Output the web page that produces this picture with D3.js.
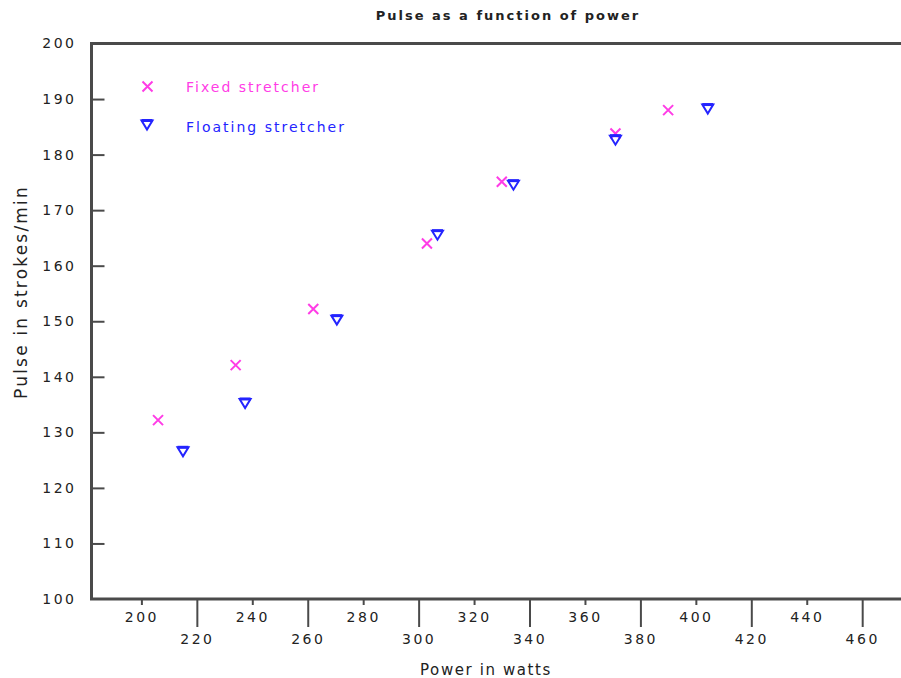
<!DOCTYPE html>
<html>
<head>
<meta charset="utf-8">
<script src="https://cdn.jsdelivr.net/npm/d3@7"></script>
<style>
  body { margin: 0; background: #fff; }
  text { font-family: "DejaVu Sans", sans-serif; fill: #222; }
</style>
</head>
<body>
<svg id="chart" width="901" height="678"></svg>
<script>
// data
let fixedPower = [206, 234, 262, 303, 330, 371, 390],
  fixedPulse = [132.2, 142.1, 152.2, 164, 175.1, 183.8, 188];
let floatPower = [215, 237.4, 270.5, 306.8, 334.2, 371, 404.3],
  floatPulse = [126.5, 135.2, 150.2, 165.5, 174.5, 182.6, 188.2];
let xTicks = [200, 220, 240, 260, 280, 300, 320, 340, 360, 380, 400, 420, 440, 460],
  yTicks = [100, 110, 120, 130, 140, 150, 160, 170, 180, 190, 200];
let seriesNames = ["Fixed stretcher", "Floating stretcher"],
  seriesColors = ["#ff3ce6", "#2424ff"];

const svg = d3.select("#chart");
const axisColor = "#4a4a4a";

const x = d3.scaleLinear().domain([182, 474]).range([91.5, 901]);
const y = d3.scaleLinear().domain([100, 200]).range([599, 43.5]);

// title
svg.append("text")
  .attr("x", 508).attr("y", 20)
  .attr("text-anchor", "middle")
  .style("font-size", "13px").style("font-weight", "bold")
  .style("letter-spacing", "2px")
  .text("Pulse as a function of power");

// x axis with alternating short/long ticks
const xAxis = svg.append("g")
  .attr("transform", `translate(0,${y(100)})`)
  .call(d3.axisBottom(x).tickValues(xTicks).tickSize(0).tickPadding(0));
xAxis.select(".domain").remove();
xAxis.selectAll(".tick line")
  .attr("stroke", axisColor).attr("stroke-width", 2)
  .attr("y2", (d, i) => i % 2 ? 28 : 6);
xAxis.selectAll(".tick text")
  .attr("y", (d, i) => i % 2 ? 45 : 23)
  .attr("dy", 0)
  .style("font-size", "14px").style("letter-spacing", "2.5px")
  .attr("fill", "#222");

// y axis, ticks pointing inward
const yAxis = svg.append("g")
  .attr("transform", `translate(${x(182)},0)`)
  .call(d3.axisLeft(y).tickValues(yTicks).tickSize(0).tickPadding(15));
yAxis.select(".domain").remove();
yAxis.selectAll(".tick line")
  .attr("stroke", axisColor).attr("stroke-width", 2)
  .attr("x2", d => (d === 100 || d === 200) ? 0 : 13);
yAxis.selectAll(".tick text")
  .style("font-size", "14px").style("letter-spacing", "2.5px")
  .attr("fill", "#222");

// frame: left, bottom, top
svg.append("path")
  .attr("d", `M${x(474)},${y(200)}H${x(182)}V${y(100)}H${x(474)}`)
  .attr("fill", "none").attr("stroke", axisColor).attr("stroke-width", 3);

// axis titles
svg.append("text")
  .attr("x", 486).attr("y", 675)
  .attr("text-anchor", "middle")
  .style("font-size", "15px").style("letter-spacing", "1.6px")
  .text("Power in watts");
svg.append("text")
  .attr("transform", `translate(27,${292}) rotate(-90)`)
  .attr("text-anchor", "middle")
  .style("font-size", "17px").style("letter-spacing", "2.2px")
  .text("Pulse in strokes/min");

function drawCross(g, cx, cy, color) {
  const s = 5;
  g.append("path")
    .attr("d", `M${cx - s},${cy - s}L${cx + s},${cy + s}M${cx - s},${cy + s}L${cx + s},${cy - s}`)
    .attr("stroke", color).attr("stroke-width", 2).attr("fill", "none");
}
function drawTriangle(g, cx, cy, color) {
  const w = 5.5, h = 4.5;
  g.append("path")
    .attr("d", `M${cx - w},${cy - h}H${cx + w}L${cx},${cy + h}Z`)
    .attr("stroke", color).attr("stroke-width", 2).attr("fill", "none");
  g.append("path")
    .attr("d", `M${cx - w},${cy - h}H${cx + w}`)
    .attr("stroke", color).attr("stroke-width", 3);
}

const marks = svg.append("g");
fixedPower.forEach((p, i) => drawCross(marks, x(p), y(fixedPulse[i]), seriesColors[0]));
floatPower.forEach((p, i) => drawTriangle(marks, x(p), y(floatPulse[i]), seriesColors[1]));

// legend
const legend = svg.append("g");
drawCross(legend, 147.5, 86.5, seriesColors[0]);
drawTriangle(legend, 147, 125, seriesColors[1]);
seriesNames.forEach((n, i) => {
  legend.append("text")
    .attr("x", 186).attr("y", 92 + i * 40)
    .style("font-size", "14px").style("letter-spacing", "2px")
    .style("fill", seriesColors[i])
    .text(n);
});
</script>
</body>
</html>
